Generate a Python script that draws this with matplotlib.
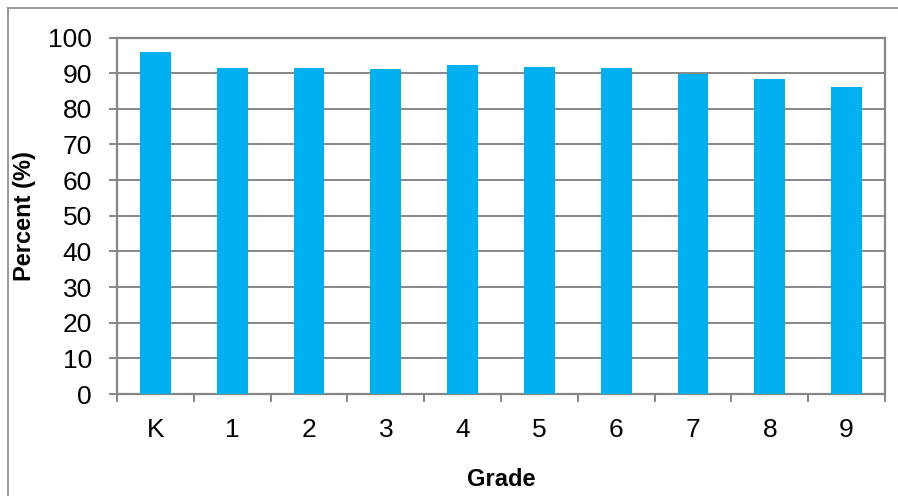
import matplotlib
matplotlib.use("Agg")
import matplotlib.pyplot as plt
from matplotlib.lines import Line2D

categories = ["K", "1", "2", "3", "4", "5", "6", "7", "8", "9"]
percent = [95.9, 91.4, 91.5, 91.2, 92.4, 91.7, 91.4, 89.7, 88.4, 86.1]
yticks = [0, 10, 20, 30, 40, 50, 60, 70, 80, 90, 100]

plt.rcParams['font.family'] = ['Liberation Sans', 'DejaVu Sans']
gray = "#868686"

fig = plt.figure(figsize=(8.98, 4.96), dpi=100)
W, H = 898, 496
ax_w = 885 - 117
ax = fig.add_axes([117 / W, 1 - 394 / H, ax_w / W, (394 - 37.5) / H])

x = list(range(len(categories)))
ax.bar(x, percent, width=0.40, color="#00B0F0", zorder=3)

ax.set_xlim(-0.5, len(categories) - 0.5)
ax.set_ylim(0, 100)
ax.set_yticks(yticks)
ax.set_xticks(x)
ax.set_xticklabels(categories)
ax.set_xticks([i - 0.5 for i in range(len(categories) + 1)], minor=True)
ax.tick_params(axis='x', which='major', length=0, pad=17, labelsize=19)
ax.tick_params(axis='x', which='minor', length=6, width=1.4, color=gray, direction='out')
ax.tick_params(axis='y', length=6, width=1.4, color=gray, direction='out', labelsize=19, pad=12)

ax.grid(axis='y', color=gray, linewidth=1.4, zorder=0)
for s in ax.spines.values():
    s.set_color(gray)
    s.set_linewidth(1.6)

ax.set_ylabel("Percent (%)", fontsize=17, fontweight='bold')
ax.set_xlabel("Grade", fontsize=17, fontweight='bold')
ax.yaxis.set_label_coords((25 - 117) / ax_w, 0.5)
ax.xaxis.set_label_coords(0.5, -(480 - 394) / (394 - 37.5))
ax.xaxis.label.set_va('center')
ax.yaxis.label.set_va('center')

# outer frame (left and top visible)
fig.add_artist(Line2D([8 / W, 8 / W], [0, 1 - 8 / H], transform=fig.transFigure, color=gray, lw=1.2))
fig.add_artist(Line2D([8 / W, 1], [1 - 8 / H, 1 - 8 / H], transform=fig.transFigure, color=gray, lw=1.2))

fig.savefig("out.png", dpi=100)
